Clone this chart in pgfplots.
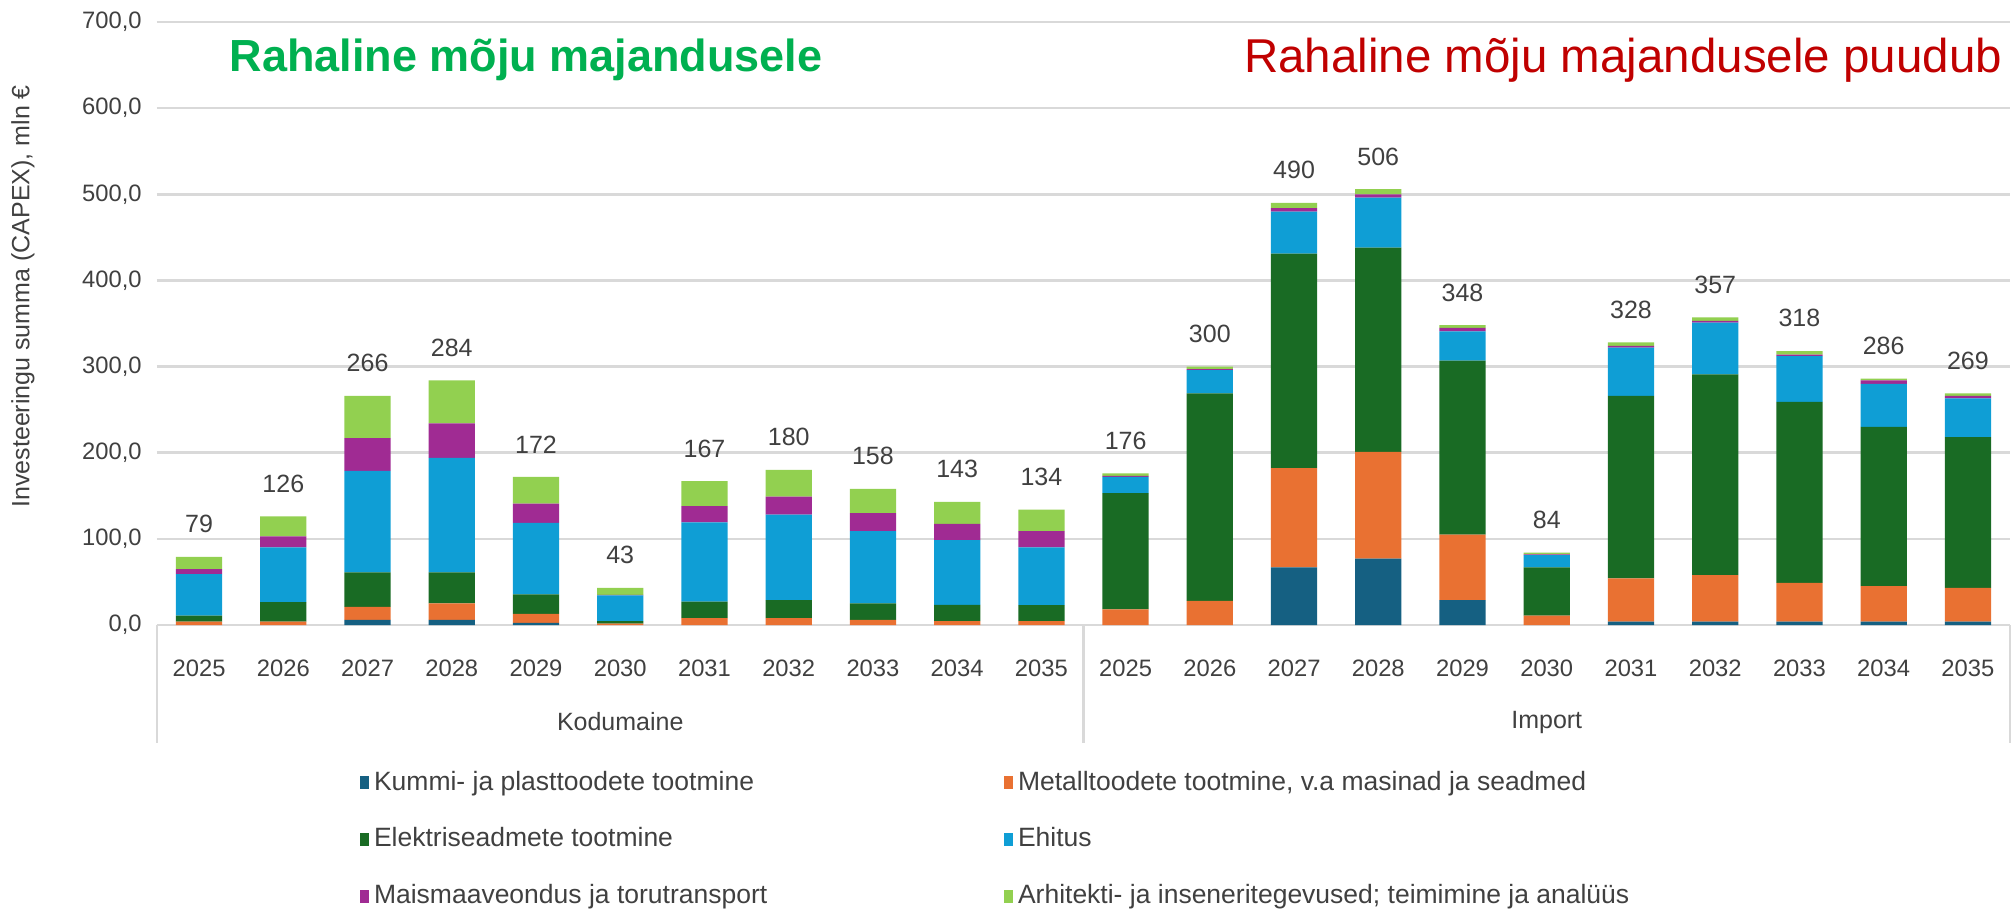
\documentclass[border=0pt]{standalone}
\usepackage{fontspec}
\setmainfont{Liberation Sans}
\usepackage{pgfplots}
\usepackage{pgfplotstable}
\pgfplotsset{compat=1.18}

\definecolor{ckummi}{HTML}{156082}
\definecolor{cmetall}{HTML}{E97132}
\definecolor{celekt}{HTML}{196B24}
\definecolor{cehitus}{HTML}{0F9ED5}
\definecolor{cmaisma}{HTML}{A02B93}
\definecolor{carh}{HTML}{92D050}
\definecolor{gridgray}{HTML}{D9D9D9}
\definecolor{txtgray}{HTML}{404040}
\definecolor{titlegreen}{HTML}{00B050}
\definecolor{titlered}{HTML}{C00000}

% 0-10 Kodumaine 2025-2035, 11-21 Import 2025-2035
\pgfplotstableread{
x  kummi metall elekt ehitus maisma arh  total
0  0     4      7     48     6      14   79
1  0     4      22.5  63.5   13     23   126
2  6     15     40    118    38     49   266
3  6     19     36    133    40     50   284
4  2.5   10.5   22.5  83     22.5   31   172
5  0     1.5    3     30     0.5    8    43
6  0     8      19    92     19     29   167
7  0     8      21    99     21     31   180
8  0     6      19    84     21     28   158
9  0     4.5    19    75     19     25.5 143
10 0     4.5    18.5  67     19     25   134
11 0     18     135   19     1      3    176
12 0     28     241   27     1      3    300
13 67    115    249   49     4      6    490
14 77    124    237   58     4      6    506
15 29    76     202   34     4      3    348
16 0     11     56    14     1      2    84
17 4     50     212   56     2      4    328
18 4     54     233   60     2      4    357
19 4     45     210   53     2      4    318
20 4     41     185   50     4      2    286
21 4     39     175   45     3      3    269
}\capex

\begin{document}
\begin{tikzpicture}
\path[use as bounding box] (-62.8pt,-114.4pt) rectangle (743.6pt,250pt);
\begin{axis}[
    scale only axis,
    width=741.2pt, height=241.2pt,
    ybar stacked, bar width=18.5pt,
    xmin=-0.5, xmax=21.5, ymin=0, ymax=700,
    ytick={0,100,...,700},
    xtick={0,...,21},
    xticklabels={2025,2026,2027,2028,2029,2030,2031,2032,2033,2034,2035,
                 2025,2026,2027,2028,2029,2030,2031,2032,2033,2034,2035},
    separate axis lines,
    axis x line*=bottom, axis y line*=left,
    x axis line style={draw=gridgray, line width=1pt},
    y axis line style={draw=none},
    tick style={draw=none},
    ymajorgrids,
    major grid style={draw=gridgray, line width=1pt},
    tick label style={font=\fontsize{9.5}{11}\selectfont, text=txtgray},
    xticklabel style={yshift=-10.6pt},
    yticklabel style={xshift=-2.6pt, /pgf/number format/.cd, fixed, fixed zerofill,
        precision=1, use comma, 1000 sep={}, assume math mode=true},
    ylabel={Investeeringu summa (CAPEX), mln €},
    ylabel style={at={(axis description cs:-0.0723,0.545)}, anchor=center,
        font=\fontsize{10}{12}\selectfont, text=txtgray},
    clip=false,
    legend columns=2,
    legend cell align=left,
    legend image code/.code={\fill[#1] (0pt,-2.6pt) rectangle (3.6pt,2.6pt);},
    legend style={at={(0.1093,-0.2327)}, anchor=north west, draw=none, fill=none,
        font=\fontsize{10.6}{12}\selectfont, text=txtgray,
        row sep=9.6pt, inner sep=0pt},
]
\addplot[fill=ckummi, draw=none] table[x=x, y=kummi] {\capex};
\addlegendentry{\makebox[250pt][l]{Kummi- ja plasttoodete tootmine}}
\addplot[fill=cmetall, draw=none] table[x=x, y=metall] {\capex};
\addlegendentry{Metalltoodete tootmine, v.a masinad ja seadmed}
\addplot[fill=celekt, draw=none] table[x=x, y=elekt] {\capex};
\addlegendentry{\makebox[250pt][l]{Elektriseadmete tootmine}}
\addplot[fill=cehitus, draw=none] table[x=x, y=ehitus] {\capex};
\addlegendentry{Ehitus}
\addplot[fill=cmaisma, draw=none] table[x=x, y=maisma] {\capex};
\addlegendentry{\makebox[250pt][l]{Maismaaveondus ja torutransport}}
\addplot[fill=carh, draw=none] table[x=x, y=arh] {\capex};
\addlegendentry{Arhitekti- ja inseneritegevused; teimimine ja analüüs}

% category frame below the years
\draw[gridgray, line width=1pt] (axis cs:-0.5,0) -- ++(0pt,-47pt);
\draw[gridgray, line width=1pt] (axis cs:10.5,0) -- ++(0pt,-47pt);
\draw[gridgray, line width=1pt] (axis cs:21.5,0) -- ++(0pt,-47pt);
\node[font=\fontsize{10}{12}\selectfont, text=txtgray] at ([yshift=-38.8pt]axis cs:5,0) {Kodumaine};
\node[font=\fontsize{10}{12}\selectfont, text=txtgray] at ([yshift=-38.8pt]axis cs:16,0) {Import};

\node[anchor=west, inner sep=0pt, text=titlegreen, font=\bfseries\fontsize{18}{20}\selectfont]
    at (axis description cs:0.0389,0.937) {Rahaline mõju majandusele};
\node[anchor=east, inner sep=0pt, text=titlered, font=\fontsize{19}{21}\selectfont]
    at (axis description cs:0.996,0.937) {Rahaline mõju majandusele puudub};
\end{axis}

% totals above the stacks, on an overlaid axis with the same scale
\begin{axis}[
    scale only axis,
    width=741.2pt, height=241.2pt,
    xmin=-0.5, xmax=21.5, ymin=0, ymax=700,
    hide axis, clip=false,
]
\addplot[only marks, mark=none, point meta=explicit,
    nodes near coords={\pgfmathprintnumber[assume math mode=true]{\pgfplotspointmeta}},
    nodes near coords style={font=\fontsize{10}{12}\selectfont, text=txtgray,
        anchor=south, yshift=6pt}]
    table[x=x, y=total, meta=total] {\capex};
\end{axis}
\end{tikzpicture}
\end{document}
